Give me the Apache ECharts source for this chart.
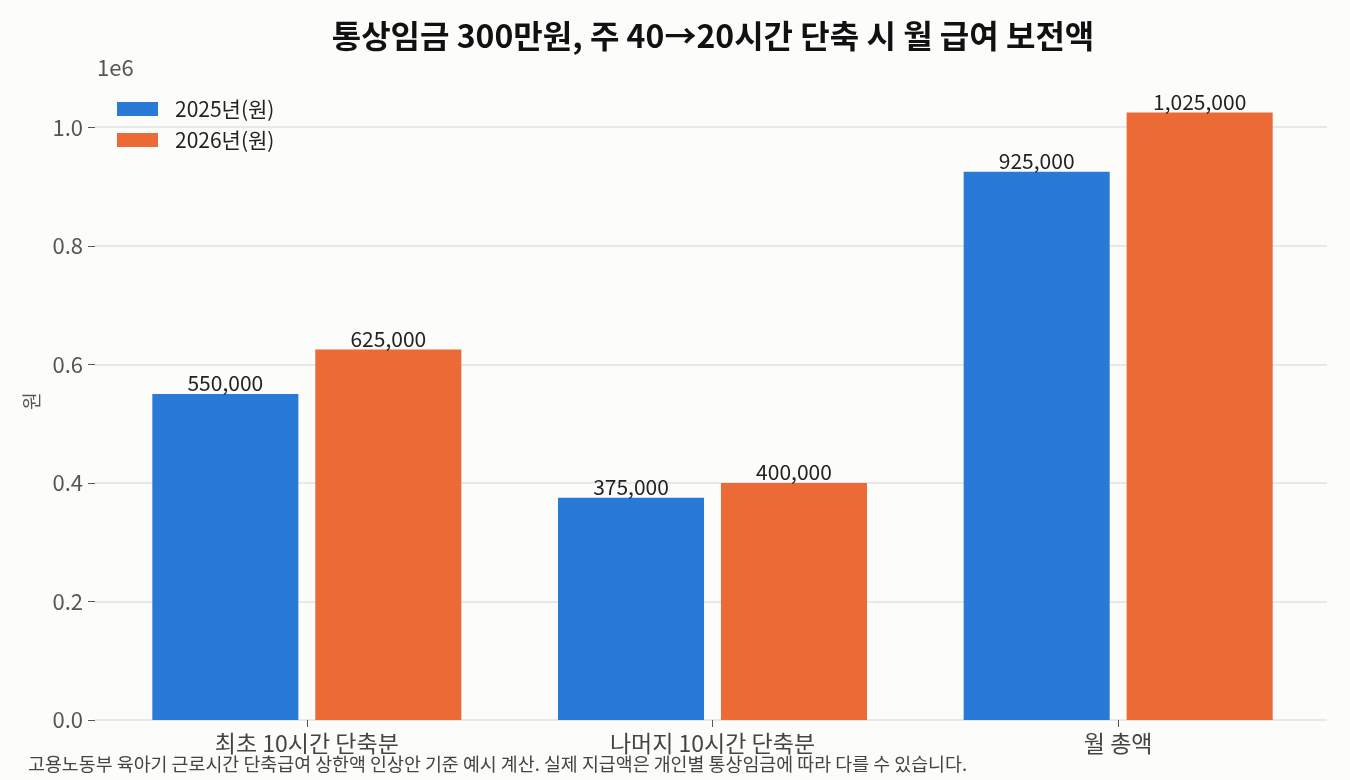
<!DOCTYPE html>
<html>
<head>
<meta charset="utf-8">
<script src="https://cdn.jsdelivr.net/npm/echarts@6/dist/echarts.min.js"></script>
<style>
  html, body { margin: 0; padding: 0; background: #fcfcfa; }
  #chart { width: 1350px; height: 780px; }
</style>
</head>
<body>
<div id="chart"></div>
<script>
const categories = ['최초 10시간 단축분', '나머지 10시간 단축분', '월 총액'];
const seriesNames = ['2025년(원)', '2026년(원)'];
const values2025 = [550000, 375000, 925000];
const values2026 = [625000, 400000, 1025000];
const yTicks = [0, 200000, 400000, 600000, 800000, 1000000];

const FONT = '"Noto Sans CJK KR", "Noto Sans", sans-serif';
const yMax = 1076250;
const plotTop = 82, plotBottom = 720;
// pixel row of the last tick (1.0e6) so the axis grid lines up with the data grid
const tickTop = plotBottom - (yTicks[yTicks.length - 1] / yMax) * (plotBottom - plotTop);

const chart = echarts.init(document.getElementById('chart'));

const fmt = v => v.toLocaleString('en-US');

chart.setOption({
    backgroundColor: '#fcfcfa',
    animation: false,
    textStyle: { fontFamily: FONT },
    title: [{
        text: '통상임금 300만원, 주 40→20시간 단축 시 월 급여 보전액',
        left: 713, top: 20, textAlign: 'center', padding: 0,
        textStyle: { fontSize: 32, fontWeight: 'bold', color: '#111', fontFamily: FONT }
    }, {
        text: '1e6', left: 97, top: 57, padding: 0,
        textStyle: { fontSize: 22, fontWeight: 'normal', color: '#555', fontFamily: FONT }
    }, {
        text: '고용노동부 육아기 근로시간 단축급여 상한액 인상안 기준 예시 계산. 실제 지급액은 개인별 통상임금에 따라 다를 수 있습니다.',
        left: 28, top: 755, padding: 0,
        textStyle: { fontSize: 18.4, fontWeight: 'normal', color: '#444', fontFamily: FONT }
    }],
    legend: {
        data: seriesNames,
        orient: 'vertical',
        left: 117, top: 98, padding: 0,
        itemWidth: 41, itemHeight: 14, itemGap: 9,
        icon: 'rect',
        textStyle: { fontSize: 21, color: '#222', fontFamily: FONT, lineHeight: 22,
            padding: [0, 0, 0, 12] }
    },
    grid: [
        { left: 104, right: 29, top: plotTop, bottom: 780 - plotBottom },
        { left: 95, right: 23, top: tickTop, bottom: 780 - plotBottom }
    ],
    xAxis: [{
        type: 'category', gridIndex: 0, data: categories,
        axisLine: { show: false },
        axisTick: { show: true, alignWithLabel: true, length: 7, lineStyle: { color: '#555' } },
        axisLabel: { fontSize: 23, color: '#444', margin: 12, fontFamily: FONT }
    }, {
        type: 'value', gridIndex: 1, show: false
    }],
    yAxis: [{
        type: 'value', gridIndex: 0, min: 0, max: yMax,
        name: '원', nameLocation: 'middle', nameGap: 63, nameRotate: 90,
        nameTextStyle: { fontSize: 19, color: '#555', fontFamily: FONT },
        axisLine: { show: false }, axisTick: { show: false },
        axisLabel: { show: false }, splitLine: { show: false }
    }, {
        type: 'value', gridIndex: 1, min: 0, max: yTicks[yTicks.length - 1], interval: 200000,
        axisLine: { show: false },
        axisTick: { show: true, length: 7, lineStyle: { color: '#555' } },
        axisLabel: { fontSize: 22, color: '#555', margin: 12, fontFamily: FONT,
            formatter: v => (v / 1e6).toFixed(1) },
        splitLine: { show: true, lineStyle: { color: '#e2e2e2', width: 1.5 } }
    }],
    series: [{
        name: seriesNames[0], type: 'bar', xAxisIndex: 0, yAxisIndex: 0,
        data: values2025, barWidth: '36%', barGap: '11.6%',
        itemStyle: { color: '#2979d6' },
        label: { show: true, position: 'top', distance: 0, fontSize: 21, color: '#222',
            fontFamily: FONT, formatter: p => fmt(p.value) }
    }, {
        name: seriesNames[1], type: 'bar', xAxisIndex: 0, yAxisIndex: 0,
        data: values2026, barWidth: '36%', barGap: '11.6%',
        itemStyle: { color: '#eb6a35' },
        label: { show: true, position: 'top', distance: 0, fontSize: 21, color: '#222',
            fontFamily: FONT, formatter: p => fmt(p.value) }
    }]
});
</script>
</body>
</html>
